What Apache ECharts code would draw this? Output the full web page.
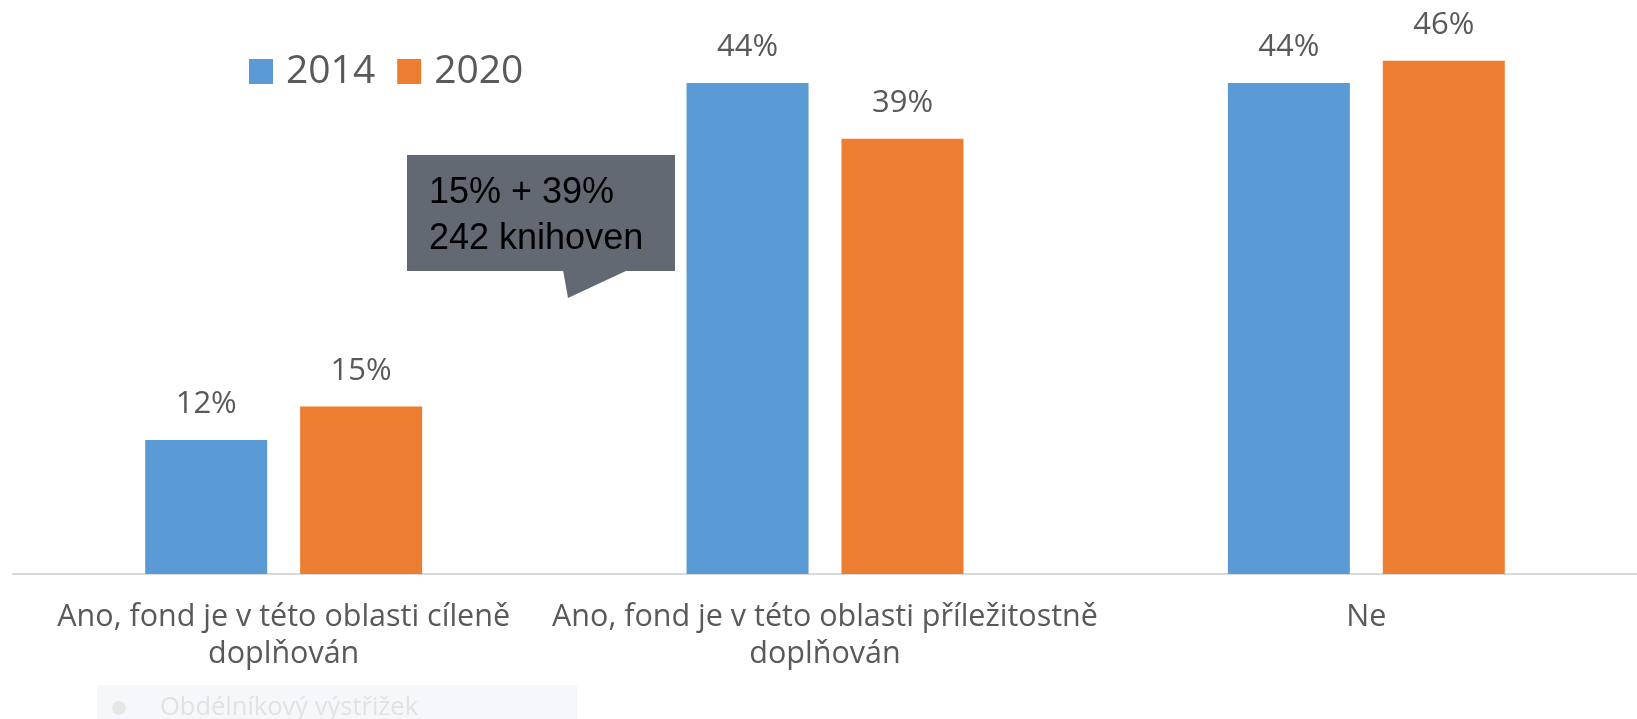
<!DOCTYPE html>
<html>
<head>
<meta charset="utf-8">
<title>Fond - doplňování</title>
<script src="https://cdn.jsdelivr.net/npm/echarts@6/dist/echarts.min.js"></script>
<style>
  html, body { margin: 0; padding: 0; background: #fff; }
  #main { width: 1637px; height: 719px; }
</style>
</head>
<body>
<div id="main"></div>
<script>
// data
var categories = [
  "Ano, fond je v této oblasti cíleně\ndoplňován",
  "Ano, fond je v této oblasti příležitostně\ndoplňován",
  "Ne"
];
var years = ["2014", "2020"];
var values2014 = [12, 44, 44];
var values2020 = [15, 39, 46];

var myChart = echarts.init(document.getElementById("main"));

var labelStyle = {
  show: true,
  position: "top",
  distance: 20,
  formatter: "{c}%",
  fontFamily: "Open Sans",
  fontSize: 31,
  lineHeight: 31,
  color: "#595959",
};

var option = {
  animation: false,
  legend: {
    data: years,
    left: 244,
    top: 47,
    icon: "rect",
    itemWidth: 24,
    itemHeight: 25,
    itemGap: 22,
    textStyle: {
      fontFamily: "Open Sans",
      fontSize: 39,
      color: "#595959",
      padding: [0, 0, 0, 8],
    },
  },
  grid: {
    left: 13,
    width: 1633,
    top: 16,
    bottom: 145,
  },
  xAxis: {
    type: "category",
    data: categories,
    axisTick: { show: false },
    axisLine: { lineStyle: { color: "#d9d9d9", width: 2 } },
    axisLabel: {
      interval: 0,
      margin: 25,
      fontFamily: "Open Sans",
      fontSize: 30.5,
      lineHeight: 37,
      color: "#595959",
    },
  },
  yAxis: {
    type: "value",
    min: 0,
    max: 50,
    show: false,
    splitLine: { show: false },
  },
  series: [
    {
      name: years[0],
      type: "bar",
      data: values2014,
      barWidth: 122,
      barGap: "27%",
      itemStyle: { color: "#5b9bd5" },
      label: labelStyle,
    },
    {
      name: years[1],
      type: "bar",
      data: values2020,
      barWidth: 122,
      barGap: "27%",
      itemStyle: { color: "#ed7d31" },
      label: labelStyle,
    },
  ],
  // popisek (bublina) a zbytek vystrizku dole
  graphic: [
    {
      type: "polygon",
      shape: { points: [[563, 270], [568, 298], [628, 270]] },
      style: { fill: "#636972" },
    },
    {
      type: "rect",
      shape: { x: 407, y: 155, width: 268, height: 116 },
      style: { fill: "#636972" },
    },
    {
      type: "text",
      x: 429,
      y: 216,
      style: {
        text: "15% + 39%\n242 knihoven",
        font: "36px 'Liberation Sans', Arial, sans-serif",
        lineHeight: 46,
        fill: "#000",
        verticalAlign: "middle",
      },
    },
    {
      type: "rect",
      shape: { x: 97, y: 685, width: 480, height: 40 },
      style: { fill: "#f4f8fd" },
    },
    {
      type: "circle",
      shape: { cx: 119, cy: 708, r: 7 },
      style: { fill: "#e6e6e6" },
    },
    {
      type: "text",
      x: 160,
      y: 708,
      style: {
        text: "Obdélníkový výstřižek",
        font: "25.5px 'Open Sans', sans-serif",
        fill: "#e2e2e2",
        verticalAlign: "middle",
      },
    },
  ],
};

myChart.setOption(option);
</script>
</body>
</html>
